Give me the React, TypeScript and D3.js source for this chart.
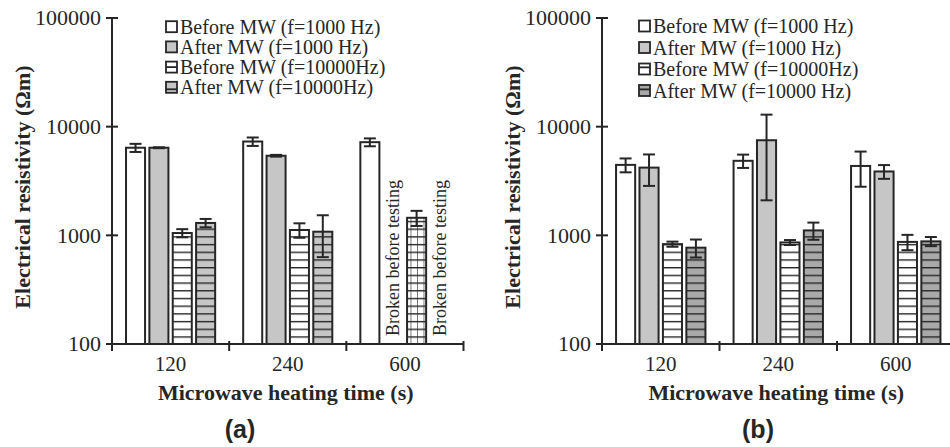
import React from "react";
import * as d3 from "d3";

// Microwave heating time categories
const times = ["120", "240", "600"];

// Panel (a) series labels and values (Ωm) with error bars
const seriesNamesA = [
  "Before MW (f=1000 Hz)",
  "After MW (f=1000 Hz)",
  "Before MW (f=10000Hz)",
  "After MW (f=10000Hz)",
];
const aBefore1k = [6400, 7300, 7200];
const aBefore1kErr = [550, 650, 600];
const aAfter1k = [6400, 5400, null];
const aAfter1kErr = [60, 100, null];
const aBefore10k = [1050, 1120, 1450];
const aBefore10kErr = [90, 170, 230];
const aAfter10k = [1300, 1080, null];
const aAfter10kErr = [115, 450, null];

// Panel (b) series labels and values (Ωm) with error bars
const seriesNamesB = [
  "Before MW (f=1000 Hz)",
  "After MW (f=1000 Hz)",
  "Before MW (f=10000Hz)",
  "After MW (f=10000 Hz)",
];
const bBefore1k = [4450, 4850, 4350];
const bBefore1kErr = [650, 680, 1550];
const bAfter1k = [4200, 7500, 3870];
const bAfter1kErr = [1350, 5400, 560];
const bBefore10k = [830, 860, 870];
const bBefore10kErr = [45, 45, 140];
const bAfter10k = [770, 1110, 880];
const bAfter10kErr = [145, 200, 85];

const yTicks = [100, 1000, 10000, 100000];
const brokenLabel = "Broken before testing";

const INK = "#262626";
const SERIF = "'Liberation Serif', 'Times New Roman', serif";
const SANS = "'Liberation Sans', Arial, sans-serif";

type Series = { name: string; values: (number | null)[]; errors: (number | null)[] };

type PanelProps = {
  id: string;
  x0: number;
  x1: number;
  series: Series[];
  fills: string[];
  legendX: number;
  legendY0: number;
  legendStep: number;
  legendFills: string[];
  legendLineFrac: (number | null)[];
  gridCats: number[];
  tag: string;
  tagX: number;
};

const yTop = 18;
const yBottom = 344;

function Panel(p: PanelProps) {
  const y = d3.scaleLog().domain([100, 100000]).range([yBottom, yTop]);
  const x = d3.scaleBand<string>().domain(times).range([p.x0, p.x1]).padding(0);
  const inner = d3
    .scaleBand<string>()
    .domain(p.series.map((s) => s.name))
    .range([0, x.bandwidth()])
    .paddingInner(0.185)
    .paddingOuter(0.6);
  const bw = inner.bandwidth();
  const boundaries = [...times.map((t) => x(t) as number), p.x1];
  const capHalf = 6;

  return (
    <g>
      {/* bars */}
      {p.series.map((s, si) =>
        times.map((t, ci) => {
          const v = s.values[ci];
          const bx = (x(t) as number) + (inner(s.name) as number);
          if (v == null) {
            return (
              <text
                key={`br-${si}-${ci}`}
                transform={`translate(${bx + bw / 2 + 6},${yBottom - 8}) rotate(-90)`}
                fontFamily={SERIF}
                fontSize={18}
                fill={INK}
              >
                {brokenLabel}
              </text>
            );
          }
          const top = y(v);
          const fill = si === 2 && p.gridCats.includes(ci) ? `url(#grid-${p.id})` : p.fills[si];
          return (
            <rect
              key={`bar-${si}-${ci}`}
              x={bx}
              y={top}
              width={bw}
              height={yBottom - top}
              fill={fill}
              stroke={INK}
              strokeWidth={2}
            />
          );
        })
      )}
      {/* error bars */}
      {p.series.map((s, si) =>
        times.map((t, ci) => {
          const v = s.values[ci];
          const e = s.errors[ci];
          if (v == null || e == null) return null;
          const cx = (x(t) as number) + (inner(s.name) as number) + bw / 2;
          const hi = y(v + e);
          const lo = y(Math.max(v - e, 101));
          return (
            <g key={`err-${si}-${ci}`} stroke={INK} strokeWidth={2}>
              <line x1={cx} x2={cx} y1={hi} y2={lo} />
              <line x1={cx - capHalf} x2={cx + capHalf} y1={hi} y2={hi} />
              <line x1={cx - capHalf} x2={cx + capHalf} y1={lo} y2={lo} />
            </g>
          );
        })
      )}
      {/* y axis */}
      <line x1={p.x0} x2={p.x0} y1={yTop} y2={yBottom} stroke={INK} strokeWidth={2} />
      {yTicks.map((t) => (
        <g key={`yt-${t}`}>
          <line x1={p.x0 - 6} x2={p.x0 + 6} y1={y(t)} y2={y(t)} stroke={INK} strokeWidth={2} />
          <text
            x={p.x0 - 11}
            y={y(t)}
            dy="0.33em"
            textAnchor="end"
            fontFamily={SERIF}
            fontSize={22}
            fill={INK}
          >
            {t}
          </text>
        </g>
      ))}
      {/* x axis */}
      <line x1={p.x0 - 6} x2={p.x1} y1={yBottom} y2={yBottom} stroke={INK} strokeWidth={2} />
      {boundaries.map((bx, i) => (
        <line key={`xb-${i}`} x1={bx} x2={bx} y1={yBottom - 3} y2={yBottom + 7} stroke={INK} strokeWidth={2} />
      ))}
      {times.map((t) => (
        <text
          key={`xl-${t}`}
          x={(x(t) as number) + x.bandwidth() / 2}
          y={371}
          textAnchor="middle"
          fontFamily={SERIF}
          fontSize={21}
          fill={INK}
        >
          {t}
        </text>
      ))}
      {/* axis titles */}
      <text
        x={(p.x0 + p.x1) / 2 - 2}
        y={400}
        textAnchor="middle"
        fontFamily={SERIF}
        fontWeight="bold"
        fontSize={22}
        fill={INK}
      >
        Microwave heating time (s)
      </text>
      <text
        transform={`translate(${p.x0 - 82},187) rotate(-90)`}
        textAnchor="middle"
        fontFamily={SERIF}
        fontWeight="bold"
        fontSize={22}
        fill={INK}
      >
        Electrical resistivity (Ωm)
      </text>
      {/* legend */}
      {p.series.map((s, si) => {
        const cy = p.legendY0 + si * p.legendStep;
        const frac = p.legendLineFrac[si];
        return (
          <g key={`lg-${si}`}>
            <rect
              x={p.legendX}
              y={cy - 5.5}
              width={11}
              height={11}
              fill={p.legendFills[si]}
              stroke={INK}
              strokeWidth={1.8}
            />
            {frac != null && (
              <line
                x1={p.legendX}
                x2={p.legendX + 11}
                y1={cy - 5.5 + 11 * frac}
                y2={cy - 5.5 + 11 * frac}
                stroke={INK}
                strokeWidth={1.8}
              />
            )}
            <text x={p.legendX + 14} y={cy} dy="0.35em" fontFamily={SERIF} fontSize={20} fill={INK}>
              {s.name}
            </text>
          </g>
        );
      })}
      {/* panel tag */}
      <text x={p.tagX} y={438} textAnchor="middle" fontFamily={SANS} fontWeight="bold" fontSize={25} fill={INK}>
        {p.tag}
      </text>
    </g>
  );
}

export default function App() {
  const seriesA: Series[] = [
    { name: seriesNamesA[0], values: aBefore1k, errors: aBefore1kErr },
    { name: seriesNamesA[1], values: aAfter1k, errors: aAfter1kErr },
    { name: seriesNamesA[2], values: aBefore10k, errors: aBefore10kErr },
    { name: seriesNamesA[3], values: aAfter10k, errors: aAfter10kErr },
  ];
  const seriesB: Series[] = [
    { name: seriesNamesB[0], values: bBefore1k, errors: bBefore1kErr },
    { name: seriesNamesB[1], values: bAfter1k, errors: bAfter1kErr },
    { name: seriesNamesB[2], values: bBefore10k, errors: bBefore10kErr },
    { name: seriesNamesB[3], values: bAfter10k, errors: bAfter10kErr },
  ];
  const gray = "#c6c6c6";
  const darkGray = "#a9a9a9";
  const hatch = (id: string, bg: string) => (
    <pattern
      id={id}
      patternUnits="userSpaceOnUse"
      width={20}
      height={7.7}
      patternTransform={`translate(0,${yBottom})`}
    >
      <rect width={20} height={7.7} fill={bg} />
      <line x1={0} x2={20} y1={0} y2={0} stroke={INK} strokeWidth={2.8} />
    </pattern>
  );
  return (
    <svg
      width={950}
      height={447}
      style={{ position: "absolute", left: 0, top: 0, background: "white" }}
    >
      <defs>
        {hatch("hw", "white")}
        {hatch("hga", gray)}
        {hatch("hgb", darkGray)}
        <pattern
          id="grid-a"
          patternUnits="userSpaceOnUse"
          width={6.5}
          height={7.7}
          patternTransform={`translate(${1},${yBottom})`}
        >
          <rect width={6.5} height={7.7} fill="white" />
          <line x1={0} x2={6.5} y1={0} y2={0} stroke={INK} strokeWidth={2.8} />
          <line x1={0} x2={0} y1={0} y2={7.7} stroke={INK} strokeWidth={1.2} />
        </pattern>
      </defs>
      <Panel
        id="a"
        x0={112}
        x1={463.5}
        series={seriesA}
        fills={["white", gray, "url(#hw)", "url(#hga)"]}
        legendX={166}
        legendY0={26.7}
        legendStep={20.2}
        legendFills={["white", gray, "white", gray]}
        legendLineFrac={[null, null, 0.5, 0.68]}
        gridCats={[2]}
        tag="(a)"
        tagX={240}
      />
      <Panel
        id="b"
        x0={602}
        x1={954.5}
        series={seriesB}
        fills={["white", gray, "url(#hw)", "url(#hgb)"]}
        legendX={639}
        legendY0={26}
        legendStep={21.5}
        legendFills={["white", gray, "white", darkGray]}
        legendLineFrac={[null, null, 0.35, 0.4]}
        gridCats={[]}
        tag="(b)"
        tagX={758}
      />
    </svg>
  );
}
